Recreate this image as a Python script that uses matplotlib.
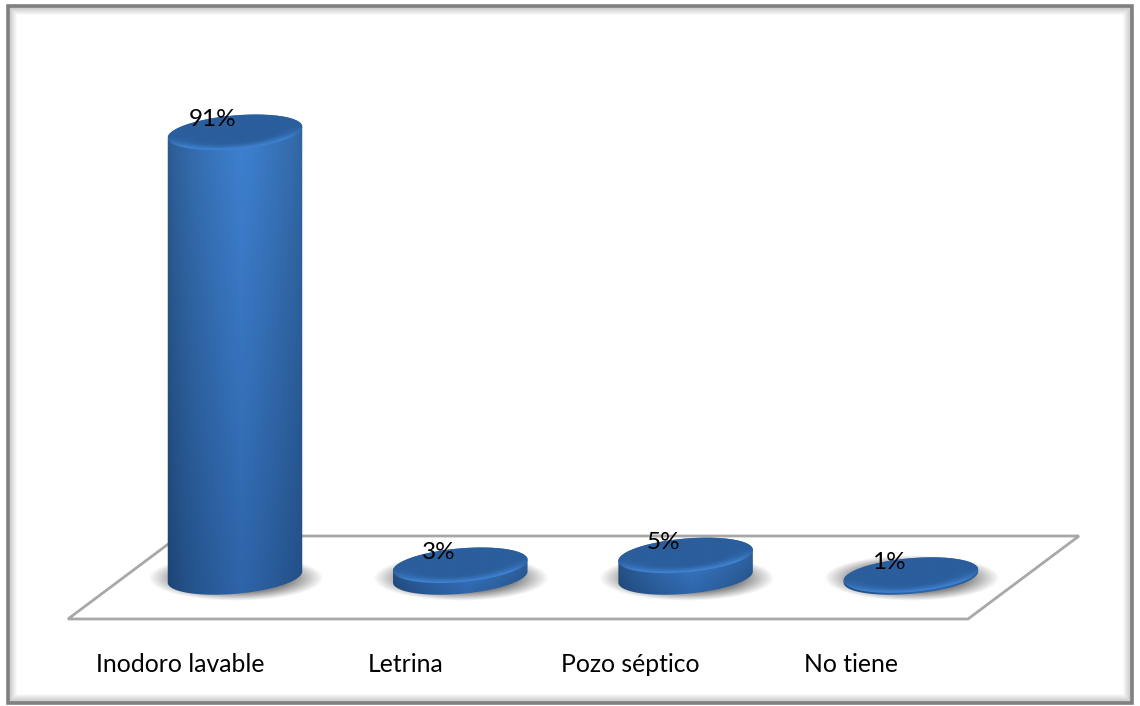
import numpy as np
import matplotlib
matplotlib.use("Agg")
import matplotlib.pyplot as plt
from matplotlib.colors import to_rgb
from matplotlib.patches import Polygon, Rectangle

categories = ["Inodoro lavable", "Letrina", "Pozo séptico", "No tiene"]
values = [91, 3, 5, 1]
value_labels = ["91%", "3%", "5%", "1%"]

plt.rcParams['font.family'] = ['Lato', 'DejaVu Sans']
W, H = 1140, 706
fig = plt.figure(figsize=(W / 100, H / 100), dpi=100)
ax = fig.add_axes([0, 0, 1, 1])

# layout constants (pixel space)
X0, STEP = 235.0, 225.3
Y_BASE, PX_PER_PCT = 580.0, 4.92
A, B, TILT = 67.5, 16.8, np.deg2rad(5)
LABEL_CX = [180, 406, 630.5, 851]


def ell(cx, cy, t, a=A, b=B):
    x = a * np.cos(t)
    y = b * np.sin(t)
    return (cx + x * np.cos(TILT) + y * np.sin(TILT),
            cy - x * np.sin(TILT) + y * np.cos(TILT))


def mix(c1, c2, f):
    c1, c2 = np.array(to_rgb(c1)), np.array(to_rgb(c2))
    return c1 + (c2 - c1) * f[..., None]


# floor
ax.add_patch(Polygon([(68, 619), (968, 619), (1079, 536), (179, 536)], closed=True,
                     facecolor="white", edgecolor="#a8a8a8", lw=2, zorder=1))

# frame and its soft inner shadow
for i, g in enumerate(np.linspace(0.78, 1.0, 9)):
    ax.add_patch(Rectangle((9 + i, 7 + i), 1121 - 2 * i, 694 - 2 * i, fill=False,
                           edgecolor=str(g), lw=1, zorder=0.5))
ax.add_patch(Rectangle((7.5, 5.5), 1124, 697, fill=False, edgecolor="#808080", lw=2.6, zorder=6))

for i, v in enumerate(values):
    cx = X0 + STEP * i
    cy_top = Y_BASE - v * PX_PER_PCT
    cy_bot = Y_BASE - 3

    # shadow
    gx, gy = np.meshgrid(np.linspace(-1, 1, 240), np.linspace(-1, 1, 90))
    r = np.hypot(gx, gy)
    sh = np.zeros(r.shape + (4,))
    sh[..., 3] = np.clip((1 - r) * 1.3, 0, 0.48)
    ax.imshow(sh, extent=(cx - 87, cx + 89, 601, 555), aspect="auto", zorder=2,
              interpolation="bilinear")

    # side of the cylinder
    x0, x1 = cx - A - 1, cx + A + 1
    y0, y1 = cy_top - 20, cy_bot + 20
    u, w = np.meshgrid(np.linspace(0, 1, 200), np.linspace(0, 1, max(int(y1 - y0), 4)))
    glow = np.clip(1 - np.abs(u - 0.55) / 0.56, 0, 1) ** 0.6
    dark = mix("#2a5687", "#1a3f6b", w)
    light = mix("#3f82d2", "#2e64a8", w)
    side = dark + (light - dark) * glow[..., None]
    im = ax.imshow(side, extent=(x0, x1, y1, y0), aspect="auto", zorder=3,
                   interpolation="bilinear")
    t_top = np.linspace(np.pi, 2 * np.pi, 80)
    t_bot = np.linspace(0, np.pi, 80)
    xt, yt = ell(cx, cy_top, t_top)
    xb, yb = ell(cx, cy_bot, t_bot)
    clip = Polygon(np.c_[np.r_[xt, xb], np.r_[yt, yb]], closed=True, transform=ax.transData)
    im.set_clip_path(clip)

    # top face with its lit front rim
    yy0, yy1 = cy_top - 20, cy_top + 20
    gxx, gyy = np.meshgrid(np.linspace(cx - A, cx + A, 280), np.linspace(yy0, yy1, 80))
    dx, dy = gxx - cx, gyy - cy_top
    px = dx * np.cos(TILT) - dy * np.sin(TILT)
    py = dx * np.sin(TILT) + dy * np.cos(TILT)
    rr = np.hypot(px / A, py / B)
    rim = np.clip((rr - 0.62) / 0.38, 0, 1) ** 1.5 * np.clip((py / B + 0.05) / 0.7, 0, 1)
    face = mix("#2b5e9c", "#4084d4", rim)
    im2 = ax.imshow(face, extent=(cx - A, cx + A, yy1, yy0), aspect="auto", zorder=4,
                    interpolation="bilinear")
    tt = np.linspace(0, 2 * np.pi, 160)
    xe, ye = ell(cx, cy_top, tt)
    im2.set_clip_path(Polygon(np.c_[xe, ye], closed=True, transform=ax.transData))

    ax.text(cx - 22, cy_top - 13, value_labels[i], ha="center", va="center",
            fontsize=17.5, color="black", zorder=5)
    ax.text(LABEL_CX[i], 664, categories[i], ha="center", va="center",
            fontsize=17.8, color="black", zorder=5)

ax.set_xlim(0, W)
ax.set_ylim(H, 0)
ax.axis("off")
fig.savefig("out.png", dpi=100, facecolor="white")
